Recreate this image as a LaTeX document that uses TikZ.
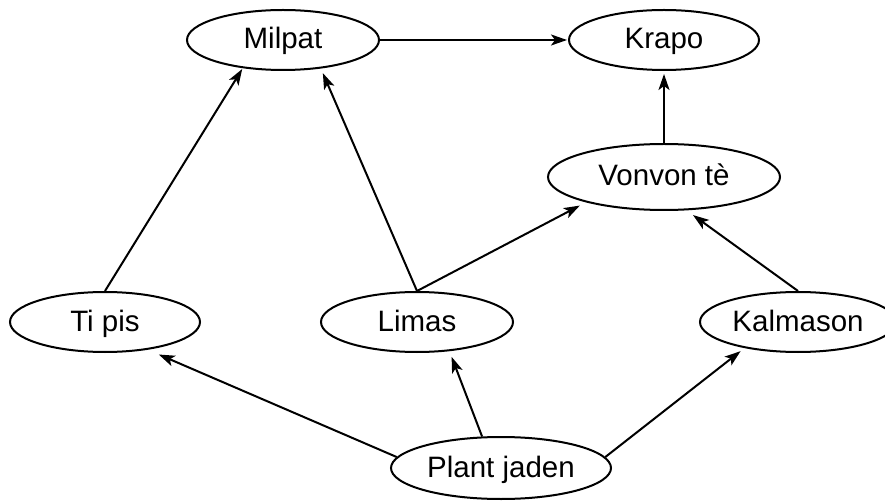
\documentclass[tikz,border=0pt]{standalone}
\usepackage{fontspec}
\setmainfont{Liberation Sans}
\usetikzlibrary{arrows.meta,shapes.geometric}
\begin{document}
\begin{tikzpicture}[x=1pt,y=-1pt,
  nd/.style={ellipse,draw,line width=2pt,inner sep=0pt,minimum height=60pt,
    text height=21pt,text depth=3pt,font=\fontsize{29.5}{34}\selectfont},
  ar/.style={line width=2pt,-{Stealth[length=16pt,width=11pt,inset=4pt]}}]
\useasboundingbox (0,0) rectangle (885,502);
\node[nd,minimum width=192pt] (milpat) at (283,40) {Milpat};
\node[nd,minimum width=190pt] (krapo) at (664,40) {Krapo};
\node[nd,minimum width=232pt,minimum height=66pt] (vonvon) at (664,177) {Vonvon tè};
\node[nd,minimum width=190pt] (tipis) at (105,322) {Ti pis};
\node[nd,minimum width=192pt] (limas) at (417,322) {Limas};
\node[nd,minimum width=196pt] (kalmason) at (798,322) {Kalmason};
\node[nd,minimum width=220pt,minimum height=62pt] (plant) at (501,468) {Plant jaden};
\draw[ar,shorten >=1pt] (milpat.east) -- (krapo.west);
\draw[ar,shorten >=3pt] (vonvon.north) -- (krapo.south);
\draw[ar,shorten >=1pt] (tipis.north) -- (milpat.215);
\draw[ar,shorten >=5pt] (limas.north) -- (milpat.-37);
\draw[ar,shorten >=7pt] (limas.north) -- (vonvon.198);
\draw[ar,shorten >=8pt] (kalmason.north) -- (vonvon.-56);
\draw[ar,shorten >=12pt] (plant.174.5) -- (tipis.-33);
\draw[ar,shorten >=6pt] (plant.121.5) -- (limas.-42.7);
\draw[ar,shorten >=5pt] (plant.6) -- (kalmason.206.8);
\end{tikzpicture}
\end{document}
